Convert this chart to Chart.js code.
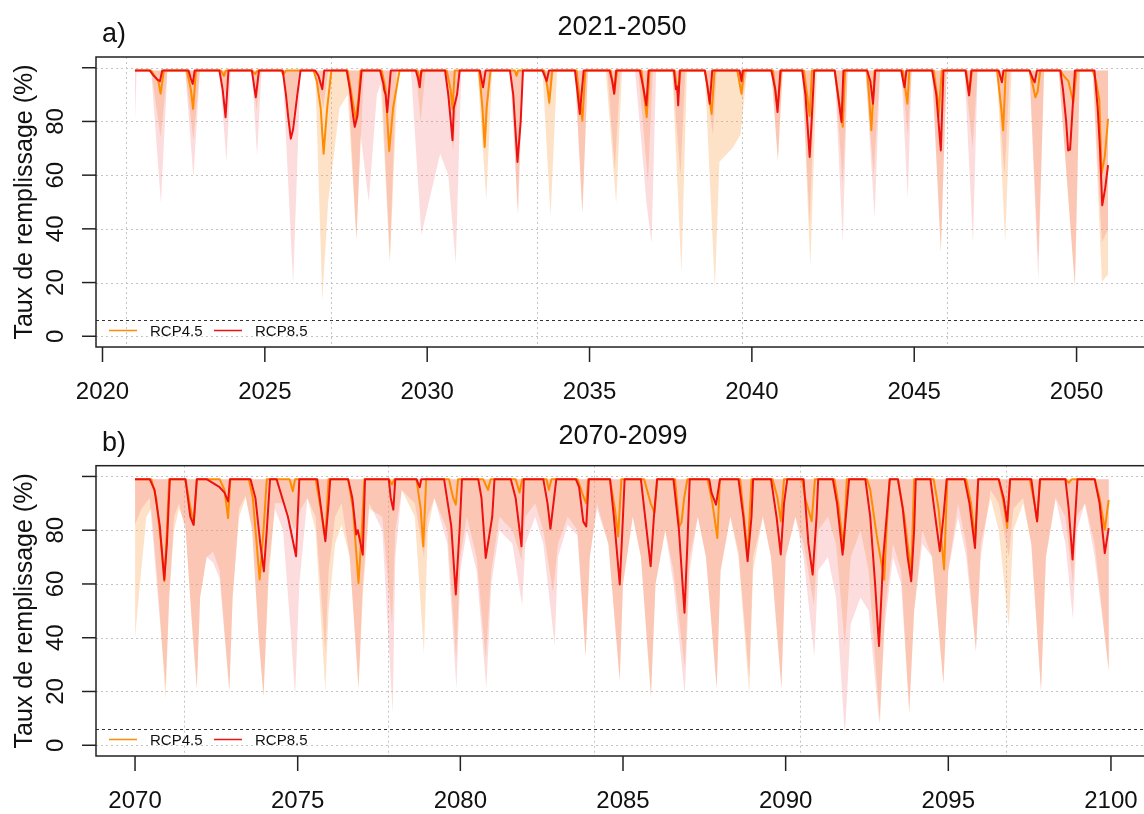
<!DOCTYPE html>
<html>
<head>
<meta charset="utf-8">
<script src="https://cdn.jsdelivr.net/npm/chart.js@4.4.1/dist/chart.umd.min.js"></script>
<style>
  html, body { margin: 0; padding: 0; background: #fff; overflow: hidden; }
  #wrap { position: relative; width: 1144px; height: 814px; overflow: hidden; }
  canvas { position: absolute; left: 0; }
  #cA { top: 0; }
  #cB { top: 407px; }
</style>
</head>
<body>
<div id="wrap">
  <canvas id="cA" width="1160" height="407"></canvas>
  <canvas id="cB" width="1160" height="407"></canvas>
</div>
<script>
// ---- data: [year, filling rate %] ----
var seriesNames = ['RCP4.5', 'RCP8.5'];
var yTicks = [0, 20, 40, 60, 80, 100];
var xTicksA = [2020, 2025, 2030, 2035, 2040, 2045, 2050];
var xTicksB = [2070, 2075, 2080, 2085, 2090, 2095, 2100];
var vGridA = [2020.71, 2027.05, 2033.37, 2039.71, 2046.02];
var vGridB = [2071.50, 2077.79, 2084.11, 2090.44, 2096.76];
var deadLevel = 6;

// panel a) 2021-2050, median lines
var medA45 = [[2021.0,99],[2021.5,99],[2021.6,97],[2021.72,95],[2021.79,90.3],[2021.89,99],
  [2022.6,99],[2022.72,92],[2022.79,84.7],[2022.88,99],[2023.65,99],[2023.74,97],[2023.8,99],
  [2024.6,99],[2024.7,97.7],[2024.78,99],[2025.5,99],[2025.57,97.5],[2025.65,99],
  [2026.5,99],[2026.6,95],[2026.72,85],[2026.81,68],[2026.92,85],[2027.05,99],
  [2027.55,99],[2027.7,88],[2027.8,81],[2027.88,88],[2027.95,99],
  [2028.6,99],[2028.72,92],[2028.83,69],[2028.95,85],[2029.15,99],
  [2029.7,99],[2029.77,96],[2029.85,99],[2030.6,99],[2030.72,92],[2030.78,84.7],[2030.85,99],
  [2031.6,99],[2031.7,85],[2031.77,70.5],[2031.83,85],[2031.95,99],
  [2032.7,99],[2032.75,97],[2032.8,99],[2033.6,99],[2033.7,93],[2033.76,87],[2033.85,99],
  [2034.6,99],[2034.7,88],[2034.78,80.4],[2034.87,99],[2035.65,99],[2035.76,90.5],[2035.85,99],
  [2036.6,99],[2036.68,90],[2036.76,81.6],[2036.85,99],[2037.62,99],[2037.73,90],[2037.8,99],
  [2038.55,99],[2038.68,90],[2038.76,82.8],[2038.85,99],[2039.55,99],[2039.68,90.3],[2039.76,99],
  [2040.65,99],[2040.75,88],[2040.8,86],[2040.9,99],[2041.6,99],[2041.7,90],[2041.78,82],[2041.85,99],
  [2042.55,99],[2042.68,88],[2042.8,78],[2042.87,99],[2043.55,99],[2043.62,88],[2043.68,76.7],[2043.78,99],
  [2044.65,99],[2044.75,90],[2044.79,86.6],[2044.85,99],[2045.6,99],[2045.72,88],[2045.75,82],[2045.85,99],
  [2046.6,99],[2046.69,90],[2046.78,99],[2047.55,99],[2047.68,85],[2047.74,76.7],[2047.82,99],
  [2048.55,99],[2048.68,92],[2048.73,89],[2048.8,91],[2048.88,99],
  [2049.5,99],[2049.6,97],[2049.75,95],[2049.9,87],[2050.0,99],
  [2050.5,99],[2050.6,95],[2050.7,88],[2050.77,60.6],[2050.87,67],[2050.97,81]];

var medA85 = [[2021.0,99],[2021.45,99],[2021.58,97],[2021.7,95.5],[2021.77,95],[2021.84,99],
  [2022.65,99],[2022.72,96],[2022.78,94],[2022.84,99],[2023.6,99],[2023.7,92],[2023.79,81.6],[2023.88,99],
  [2024.6,99],[2024.66,94],[2024.72,89],[2024.82,99],
  [2025.55,99],[2025.65,90],[2025.72,81.6],[2025.8,73.6],[2025.87,77],[2026.0,90],[2026.1,99],
  [2026.55,99],[2026.65,97],[2026.72,94],[2026.77,92],[2026.83,99],
  [2027.52,99],[2027.62,92],[2027.72,82],[2027.77,78],[2027.85,82],[2027.98,99],
  [2028.55,99],[2028.65,94],[2028.68,91.5],[2028.72,90],[2028.77,83.5],[2028.88,99],
  [2029.65,99],[2029.72,96],[2029.77,92.7],[2029.82,99],
  [2030.55,99],[2030.65,90],[2030.78,73],[2030.82,85],[2030.92,90],[2031.0,99],
  [2031.62,99],[2031.72,92.7],[2031.8,99],[2032.55,99],[2032.65,90],[2032.78,64.9],[2032.88,80],[2032.95,99],
  [2033.55,99],[2033.68,95],[2033.75,99],[2034.55,99],[2034.62,92],[2034.7,82.8],[2034.82,99],
  [2035.62,99],[2035.7,95],[2035.76,90.3],[2035.82,99],[2036.55,99],[2036.65,93],[2036.75,86],[2036.82,99],
  [2037.6,99],[2037.66,92],[2037.7,93],[2037.73,86],[2037.78,99],[2038.55,99],[2038.62,94],[2038.7,86.6],[2038.78,99],
  [2039.62,99],[2039.68,95],[2039.72,99],[2040.6,99],[2040.72,92],[2040.79,83.5],[2040.88,99],
  [2041.55,99],[2041.65,90],[2041.78,66.8],[2041.84,80],[2041.92,99],
  [2042.55,99],[2042.65,90],[2042.76,79.8],[2042.82,99],[2043.55,99],[2043.65,95],[2043.73,86.6],[2043.8,99],
  [2044.6,99],[2044.66,95],[2044.7,92.7],[2044.76,99],[2045.55,99],[2045.68,90],[2045.82,69.2],[2045.9,99],
  [2046.58,99],[2046.69,89.7],[2046.76,99],[2047.6,99],[2047.7,94.6],[2047.75,99],
  [2048.55,99],[2048.65,96],[2048.71,94.6],[2048.78,99],
  [2049.5,99],[2049.58,92],[2049.68,80],[2049.74,69.2],[2049.8,69.5],[2049.95,99],
  [2050.55,99],[2050.65,85],[2050.72,70],[2050.79,48.8],[2050.88,55],[2050.97,63.7]];

// panel a) lower envelopes of the ensemble ranges
var lowA45 = [[2021.0,99],[2021.5,99],[2021.79,74],[2022.0,99],[2022.55,99],[2022.8,73],[2023.0,99],
  [2023.6,99],[2023.78,90],[2023.9,99],[2024.6,99],[2024.75,84],[2024.85,99],
  [2025.55,99],[2025.8,75],[2026.05,99],
  [2026.55,99],[2026.77,13.5],[2026.95,50],[2027.3,85],[2027.55,90],[2027.82,36],[2028.05,99],
  [2028.55,99],[2028.85,27],[2029.1,99],[2029.65,99],[2029.8,80],[2029.95,99],
  [2030.55,99],[2030.8,69],[2031.0,99],[2031.55,99],[2031.82,50.7],[2032.0,99],
  [2032.6,99],[2032.78,46],[2032.95,99],[2033.55,99],[2033.8,44.5],[2034.0,99],
  [2034.55,99],[2034.78,45.7],[2034.95,99],[2035.5,99],[2035.82,49.4],[2036.0,99],
  [2036.5,99],[2036.8,58],[2036.95,99],[2037.55,99],[2037.83,23.4],[2038.0,99],
  [2038.55,99],[2038.86,17.9],[2039.0,65],[2039.4,70],[2039.65,75],[2039.85,99],
  [2040.6,99],[2040.8,65.5],[2040.95,99],[2041.55,99],[2041.8,26],[2042.0,99],
  [2042.55,99],[2042.8,57],[2042.95,99],[2043.5,99],[2043.75,60],[2043.95,99],
  [2044.6,99],[2044.8,75],[2044.92,99],[2045.55,99],[2045.82,31.5],[2046.0,99],
  [2046.55,99],[2046.8,70],[2046.95,99],[2047.55,99],[2047.8,35],[2048.0,99],
  [2048.55,99],[2048.82,28.4],[2049.0,99],[2049.45,99],[2049.95,18],[2050.1,99],
  [2050.5,99],[2050.78,20.3],[2050.97,23]];

var lowA85 = [[2021.0,80],[2021.05,99],[2021.5,99],[2021.8,49.4],[2022.0,99],
  [2022.55,99],[2022.8,59],[2023.0,99],[2023.6,99],[2023.82,65],[2023.95,99],
  [2024.6,99],[2024.76,67.4],[2024.9,99],[2025.55,99],[2025.87,19.7],[2026.1,99],
  [2026.55,99],[2026.8,85],[2026.95,99],
  [2027.55,99],[2027.82,36],[2027.95,75],[2028.2,50],[2028.45,90],[2028.6,95],[2028.85,29],[2029.05,99],
  [2029.5,99],[2029.82,37.7],[2030.05,50],[2030.4,68],[2030.65,60],[2030.88,27],[2031.05,99],
  [2031.6,99],[2031.8,72],[2031.95,99],[2032.55,99],[2032.8,45],[2032.95,99],
  [2033.6,99],[2033.76,85],[2033.9,99],[2034.55,99],[2034.78,45.7],[2034.95,99],
  [2035.55,99],[2035.78,62],[2035.95,99],
  [2036.4,99],[2036.6,72],[2036.75,50],[2036.91,34.6],[2037.05,99],
  [2037.55,99],[2037.8,60],[2037.95,99],[2038.55,99],[2038.8,75],[2038.92,99],
  [2039.55,99],[2039.7,88],[2039.85,99],[2040.6,99],[2040.8,65.5],[2040.95,99],
  [2041.55,99],[2041.78,42],[2041.95,99],[2042.55,99],[2042.8,35],[2042.95,99],
  [2043.5,99],[2043.78,44],[2043.95,99],[2044.6,99],[2044.8,51.3],[2044.92,99],
  [2045.55,99],[2045.82,31.5],[2046.0,99],[2046.55,99],[2046.81,34.6],[2046.95,99],
  [2047.55,99],[2047.78,60],[2047.95,99],[2048.55,99],[2048.82,21],[2049.0,99],
  [2049.45,99],[2049.95,19],[2050.1,99],[2050.5,99],[2050.78,35],[2050.97,40]];

// panel b) 2070-2099, median lines
var medB45 = [[2070.0,99],[2070.5,99],[2070.65,92],[2070.8,75],[2070.9,61],[2070.98,80],[2071.05,99],
  [2071.55,99],[2071.68,90],[2071.8,82],[2071.9,99],[2072.6,99],[2072.75,95],[2072.86,84.5],[2072.93,99],
  [2073.5,99],[2073.62,92],[2073.83,61.7],[2073.95,80],[2074.05,99],
  [2074.75,99],[2074.85,94.5],[2074.92,99],[2075.55,99],[2075.68,90],[2075.85,77],[2075.95,99],
  [2076.55,99],[2076.7,88],[2076.87,60.4],[2076.97,80],[2077.05,99],
  [2077.8,99],[2077.9,97],[2077.97,99],[2078.65,99],[2078.78,88],[2078.86,74],[2078.95,99],
  [2079.65,99],[2079.78,92],[2079.86,89.5],[2079.93,99],[2080.7,99],[2080.85,95],[2080.93,99],
  [2081.7,99],[2081.82,94],[2081.9,99],[2082.65,99],[2082.72,95],[2082.8,99],
  [2083.6,99],[2083.8,92],[2083.87,90],[2083.93,99],[2084.6,99],[2084.75,88],[2084.85,77.7],[2084.95,99],
  [2085.65,99],[2085.85,90],[2085.97,86.5],[2086.05,99],
  [2086.6,99],[2086.73,81.4],[2086.8,83],[2086.88,92],[2086.98,99],
  [2087.6,99],[2087.75,90],[2087.9,77.1],[2087.98,99],[2088.6,99],[2088.72,85],[2088.83,70.3],[2088.95,99],
  [2089.6,99],[2089.75,92],[2089.85,83.3],[2089.95,99],[2090.5,99],[2090.6,92],[2090.8,83.3],[2090.9,99],
  [2091.5,99],[2091.62,90],[2091.78,72.8],[2091.88,99],
  [2092.5,99],[2092.6,95],[2092.8,78],[2093.03,61.6],[2093.1,80],[2093.2,99],
  [2093.45,99],[2093.65,85],[2093.86,64],[2093.95,99],[2094.55,99],[2094.7,88],[2094.87,65.4],[2094.97,99],
  [2095.55,99],[2095.7,90],[2095.82,76.5],[2095.92,99],[2096.55,99],[2096.7,90],[2096.81,80.8],[2096.9,99],
  [2097.5,99],[2097.65,90],[2097.73,83.3],[2097.82,99],[2098.6,99],[2098.7,97.6],[2098.8,99],
  [2099.5,99],[2099.65,92],[2099.81,80.2],[2099.93,91.3]];

var medB85 = [[2070.0,99],[2070.45,99],[2070.6,95],[2070.76,81.6],[2070.9,61.6],[2070.98,75],[2071.07,99],
  [2071.55,99],[2071.7,85],[2071.8,82],[2071.9,99],
  [2072.2,99],[2072.6,96],[2072.75,94],[2072.86,90.7],[2072.92,99],
  [2073.55,99],[2073.7,92],[2073.85,75],[2073.96,64.7],[2074.05,80],[2074.15,99],
  [2074.35,99],[2074.5,93],[2074.7,85],[2074.95,70.3],[2075.05,99],
  [2075.6,99],[2075.72,88],[2075.85,75.9],[2075.95,90],[2076.0,99],
  [2076.55,99],[2076.68,92],[2076.8,78.4],[2076.85,80],[2077.0,70.9],[2077.07,99],
  [2077.8,99],[2077.86,92],[2077.94,87.6],[2078.0,99],[2078.65,99],[2078.75,96],[2078.8,99],
  [2079.5,99],[2079.72,81.6],[2079.86,56.1],[2079.98,81],[2080.05,99],
  [2080.55,99],[2080.65,92],[2080.78,69.7],[2080.85,75],[2080.98,85],[2081.05,99],
  [2081.55,99],[2081.7,92],[2081.88,74],[2081.95,99],[2082.55,99],[2082.68,90],[2082.77,80.5],[2082.95,99],
  [2083.55,99],[2083.65,96],[2083.78,83.2],[2083.87,81.4],[2083.95,99],
  [2084.6,99],[2084.72,85],[2084.9,59.8],[2084.98,80],[2085.05,99],
  [2085.55,99],[2085.68,85],[2085.85,66.6],[2085.95,85],[2086.05,99],
  [2086.55,99],[2086.72,80],[2086.89,49.3],[2086.98,75],[2087.05,99],
  [2087.65,99],[2087.72,94],[2087.86,89.5],[2087.98,99],
  [2088.55,99],[2088.7,85],[2088.83,68.5],[2088.95,85],[2089.0,99],
  [2089.55,99],[2089.72,85],[2089.85,71],[2089.95,90],[2090.05,99],
  [2090.55,99],[2090.7,75],[2090.83,63.5],[2090.95,85],[2091.0,99],
  [2091.45,99],[2091.58,90],[2091.75,70.9],[2091.85,85],[2091.95,99],
  [2092.45,99],[2092.6,85],[2092.75,60],[2092.87,36.9],[2093.0,70],[2093.2,99],
  [2093.45,99],[2093.6,88],[2093.75,70],[2093.86,61],[2093.95,80],[2094.0,99],
  [2094.45,99],[2094.6,85],[2094.74,72.2],[2094.85,85],[2094.95,99],
  [2095.5,99],[2095.65,90],[2095.82,73.4],[2095.92,99],[2096.55,99],[2096.7,92],[2096.81,83.3],[2096.9,99],
  [2097.55,99],[2097.65,90],[2097.73,83.3],[2097.82,99],
  [2098.6,99],[2098.7,88],[2098.82,69.1],[2098.9,85],[2098.97,99],
  [2099.5,99],[2099.65,90],[2099.81,71.5],[2099.93,80.8]];

// panel b) lower envelopes
var lowB45 = [[2070.0,40],[2070.15,60],[2070.35,85],[2070.5,88],[2070.7,60],[2070.94,17],[2071.05,55],[2071.2,80],[2071.35,88],
  [2071.55,82],[2071.75,45],[2071.9,21],[2072.0,55],[2072.2,70],[2072.4,72],
  [2072.6,65],[2072.9,20],[2073.0,55],[2073.2,85],[2073.4,92],
  [2073.6,80],[2073.8,40],[2073.95,18],[2074.1,60],[2074.3,90],
  [2074.6,90],[2074.9,80],[2075.1,88],[2075.3,92],
  [2075.55,80],[2075.85,20],[2075.95,50],[2076.15,75],[2076.35,82],
  [2076.6,70],[2076.87,21],[2077.0,55],[2077.2,88],
  [2077.6,85],[2077.9,45],[2078.0,80],[2078.2,95],
  [2078.6,85],[2078.88,34],[2079.0,80],[2079.2,92],
  [2079.6,80],[2079.87,32],[2080.0,70],[2080.2,85],
  [2080.5,70],[2080.78,32],[2080.95,65],[2081.2,85],
  [2081.6,80],[2081.88,69],[2082.0,85],[2082.3,90],
  [2082.55,80],[2082.85,57],[2083.0,75],[2083.3,85],
  [2083.6,80],[2083.85,33],[2083.98,70],[2084.2,90],
  [2084.55,75],[2084.9,24],[2085.0,60],[2085.3,85],
  [2085.55,70],[2085.86,18],[2086.0,60],[2086.3,80],
  [2086.55,65],[2086.9,29],[2087.05,70],[2087.3,85],
  [2087.55,70],[2087.88,21],[2088.0,65],[2088.3,85],
  [2088.55,70],[2088.88,19],[2089.0,65],[2089.3,85],
  [2089.55,70],[2089.87,21],[2090.0,70],[2090.3,85],
  [2090.55,75],[2090.87,52],[2091.0,80],[2091.3,85],
  [2091.55,75],[2091.82,37],[2092.0,70],[2092.3,80],
  [2092.55,65],[2092.9,8],[2093.05,50],[2093.3,75],
  [2093.55,65],[2093.8,12],[2093.95,50],[2094.2,80],
  [2094.5,70],[2094.85,23],[2095.0,65],[2095.3,90],
  [2095.55,75],[2095.85,35],[2096.0,75],[2096.3,92],
  [2096.55,80],[2096.86,44],[2097.0,80],[2097.3,90],
  [2097.55,75],[2097.85,20],[2098.0,70],[2098.3,92],
  [2098.6,85],[2098.83,60],[2098.95,85],[2099.2,90],
  [2099.5,75],[2099.93,27]];

var lowB85 = [[2070.0,82],[2070.2,88],[2070.45,92],[2070.7,55],[2070.94,22],[2071.05,55],[2071.2,85],[2071.35,90],
  [2071.55,80],[2071.75,45],[2071.9,21],[2072.0,55],[2072.2,70],[2072.4,68],
  [2072.6,62],[2072.9,20],[2073.0,55],[2073.2,88],[2073.4,93],
  [2073.6,80],[2073.8,40],[2073.95,18],[2074.1,65],[2074.3,88],
  [2074.55,80],[2074.8,40],[2074.92,18],[2075.05,60],[2075.3,92],
  [2075.55,85],[2075.85,35],[2075.95,65],[2076.15,85],[2076.35,90],
  [2076.6,70],[2076.87,21],[2077.0,60],[2077.2,90],
  [2077.6,80],[2077.92,12],[2078.0,70],[2078.2,95],
  [2078.6,90],[2078.88,70],[2079.0,85],[2079.2,92],
  [2079.6,75],[2079.88,21],[2080.0,65],[2080.2,80],
  [2080.5,65],[2080.8,21],[2080.95,60],[2081.2,80],
  [2081.6,75],[2081.9,52],[2082.0,75],[2082.3,85],
  [2082.55,75],[2082.9,37],[2083.0,70],[2083.3,82],
  [2083.6,78],[2083.85,33],[2083.98,70],[2084.2,88],
  [2084.55,75],[2084.9,24],[2085.0,60],[2085.3,85],
  [2085.55,70],[2085.86,18],[2086.0,60],[2086.3,80],
  [2086.55,60],[2086.9,19],[2087.05,65],[2087.3,85],
  [2087.55,70],[2087.88,21],[2088.0,65],[2088.3,85],
  [2088.55,72],[2088.88,25],[2089.0,70],[2089.3,85],
  [2089.55,70],[2089.87,21],[2090.0,70],[2090.3,85],
  [2090.55,70],[2090.88,33],[2091.0,65],[2091.3,70],
  [2091.55,55],[2091.82,3.5],[2092.0,45],[2092.3,55],
  [2092.55,50],[2092.88,8],[2093.05,45],[2093.3,70],
  [2093.55,60],[2093.8,12],[2093.95,50],[2094.2,75],
  [2094.5,70],[2094.85,23],[2095.0,65],[2095.3,85],
  [2095.55,70],[2095.85,35],[2096.0,70],[2096.3,95],
  [2096.55,90],[2096.86,70],[2097.0,88],[2097.3,92],
  [2097.55,75],[2097.85,20],[2098.0,70],[2098.3,92],
  [2098.6,75],[2098.83,47],[2098.95,80],[2099.2,90],
  [2099.5,70],[2099.95,27]];

// ---- styles ----
var FONT = '"Liberation Sans", Arial, sans-serif';
var colOrange = '#ff8c00';
var colRed = '#ee1111';
var fill45 = 'rgba(250, 165, 80, 0.32)';
var fill85 = 'rgba(245, 120, 125, 0.26)';

function pts(arr) {
    return arr.map(function (p) { return { x: p[0], y: p[1] }; });
}

function line(ctx, x1, y1, x2, y2) {
    ctx.beginPath();
    ctx.moveTo(x1, y1);
    ctx.lineTo(x2, y2);
    ctx.stroke();
}

// axes, grid, box, titles and legend drawn R-style from the chart's scales
var decoPlugin = {
    id: 'deco',
    beforeDatasetsDraw: function (chart, args, opts) {
        var ctx = chart.ctx, a = chart.chartArea;
        var xs = chart.scales.x, ys = chart.scales.y;
        ctx.save();
        ctx.beginPath();
        ctx.rect(a.left, a.top, a.right - a.left, a.bottom - a.top);
        ctx.clip();
        ctx.lineWidth = 1;
        ctx.strokeStyle = '#c4c4c4';
        ctx.setLineDash([2, 3]);
        yTicks.forEach(function (v) {
            var py = Math.round(ys.getPixelForValue(v)) + 0.5;
            line(ctx, a.left, py, a.right, py);
        });
        opts.vgrid.forEach(function (v) {
            var px = Math.round(xs.getPixelForValue(v)) + 0.5;
            line(ctx, px, a.top, px, a.bottom);
        });
        ctx.strokeStyle = '#333';
        ctx.setLineDash([3, 3]);
        var pd = Math.round(ys.getPixelForValue(deadLevel)) + 0.5;
        line(ctx, a.left, pd, a.right, pd);
        ctx.restore();
    },
    afterDraw: function (chart, args, opts) {
        var ctx = chart.ctx, a = chart.chartArea;
        var xs = chart.scales.x, ys = chart.scales.y;
        ctx.save();
        ctx.setLineDash([]);
        ctx.strokeStyle = '#222';
        ctx.lineWidth = 1.5;
        ctx.strokeRect(a.left, a.top, a.right - a.left, a.bottom - a.top);

        ctx.fillStyle = '#111';
        ctx.lineWidth = 1.5;
        // y axis ticks + rotated labels
        ctx.font = '24px ' + FONT;
        ctx.textAlign = 'center';
        ctx.textBaseline = 'middle';
        yTicks.forEach(function (v) {
            var py = ys.getPixelForValue(v);
            line(ctx, a.left - 14, py, a.left, py);
            if (v < 100) {
                ctx.save();
                ctx.translate(55, py);
                ctx.rotate(-Math.PI / 2);
                ctx.fillText(String(v), 0, 1);
                ctx.restore();
            }
        });
        // y axis title
        ctx.save();
        ctx.font = '25px ' + FONT;
        ctx.translate(25, (a.top + a.bottom) / 2);
        ctx.rotate(-Math.PI / 2);
        ctx.fillText('Taux de remplissage (%)', 0, 0);
        ctx.restore();
        // x axis ticks + labels
        opts.xticks.forEach(function (v) {
            var px = xs.getPixelForValue(v);
            line(ctx, px, a.bottom, px, a.bottom + 15);
            ctx.fillText(String(v), px, a.bottom + 45);
        });
        // panel title and tag
        ctx.font = '27px ' + FONT;
        ctx.fillText(opts.title, (a.left + a.right) / 2, a.top - 29);
        ctx.textAlign = 'left';
        ctx.fillText(opts.tag, 102, a.top - 22);
        // legend, bottom-left inside the box
        var ly = a.bottom - 16.5;
        ctx.font = '15px ' + FONT;
        ctx.lineWidth = 1.5;
        [[colOrange, 109, 150], [colRed, 214, 255]].forEach(function (it, i) {
            ctx.strokeStyle = it[0];
            line(ctx, it[1], ly, it[1] + 28, ly);
            ctx.fillStyle = '#111';
            ctx.fillText(seriesNames[i], it[2], ly + 1);
        });
        ctx.restore();
    }
};

function makePanel(id, med45, med85, low45, low85, xmin, xmax, pad, xticks, vgrid, title, tag) {
    var chartdata = {
        datasets: [
            { label: seriesNames[1], data: pts(med85), borderColor: colRed, borderWidth: 2, order: 0, fill: false },
            { label: seriesNames[0], data: pts(med45), borderColor: colOrange, borderWidth: 2, order: 1, fill: false },
            { label: seriesNames[1] + ' range', data: pts(low85), borderWidth: 0, borderColor: 'rgba(0,0,0,0)',
              backgroundColor: fill85, fill: { value: 99 }, order: 2 },
            { label: seriesNames[0] + ' range', data: pts(low45), borderWidth: 0, borderColor: 'rgba(0,0,0,0)',
              backgroundColor: fill45, fill: { value: 99 }, order: 3 }
        ]
    };
    return new Chart(document.getElementById(id), {
        type: 'line',
        data: chartdata,
        options: {
            responsive: false,
            animation: false,
            events: [],
            layout: { padding: pad },
            elements: { point: { radius: 0 }, line: { tension: 0, borderJoinStyle: 'round' } },
            scales: {
                x: { type: 'linear', min: xmin, max: xmax, display: false },
                y: { type: 'linear', min: -4, max: 104, display: false }
            },
            plugins: {
                legend: { display: false },
                tooltip: { enabled: false },
                deco: { xticks: xticks, vgrid: vgrid, title: title, tag: tag }
            }
        },
        plugins: [decoPlugin]
    });
}

makePanel('cA', medA45, medA85, lowA45, lowA85, 2019.8, 2052.2,
    { left: 96, top: 57, right: 12, bottom: 60 }, xTicksA, vGridA, '2021-2050', 'a)');
makePanel('cB', medB45, medB85, lowB45, lowB85, 2068.8, 2101.2,
    { left: 96, top: 58.7, right: 10, bottom: 58 }, xTicksB, vGridB, '2070-2099', 'b)');
</script>
</body>
</html>
